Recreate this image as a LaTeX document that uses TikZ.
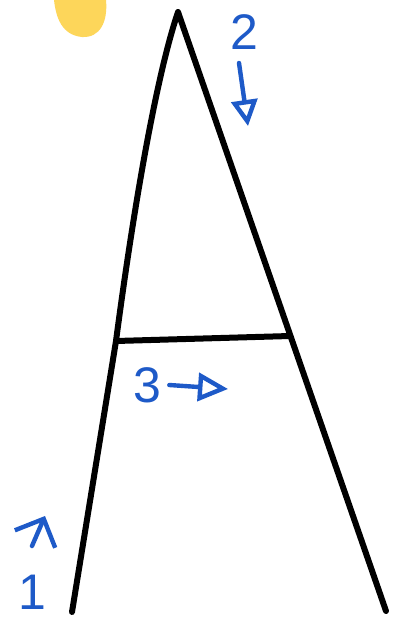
\documentclass[tikz,border=0pt]{standalone}
\usepackage{fontspec}
\setmainfont{Liberation Sans}
\usetikzlibrary{arrows.meta}
\definecolor{inkblue}{RGB}{30,90,200}
\definecolor{blob}{RGB}{253,214,90}
\tikzset{
  pen/.style={line width=3pt, line cap=round, line join=round, black},
  bluepen/.style={line width=2.2pt, line cap=round, line join=round, inkblue},
  num/.style={inkblue, font=\fontsize{25}{25}\selectfont, inner sep=0pt},
}
\begin{document}
\begin{tikzpicture}[x=0.5pt, y=-0.5pt]
\useasboundingbox (0,0) rectangle (393,622);
\fill[white] (0,0) rectangle (393,622);
% yellow blob
\fill[blob] (54,0) .. controls (56,18) and (62,35) .. (82,37)
  .. controls (100,38) and (108,22) .. (106,0) -- cycle;
% letter A
\coordinate (apex) at (178,12);
\coordinate (lmid) at (116,341);
\coordinate (lbot) at (72,612);
\coordinate (rmid) at (290,336);
\coordinate (rbot) at (386,611);
\draw[pen] (lbot) -- (lmid) .. controls (132,220) and (155,80) .. (apex) -- (rbot);
\draw[pen] (lmid) -- (rmid);
% annotations
\node[num] (n2) at (244,32) {2};
\coordinate (a2s) at (239,63);
\coordinate (a2e) at (248,126);
\draw[bluepen, -{Triangle[open, length=13pt, width=13pt, line width=2.2pt]}] (a2s) -- (a2e);
\node[num] (n3) at (147,385) {3};
\coordinate (a3e) at (228,389);
\draw[bluepen, -{Triangle[open, length=15pt, width=14pt, line width=2.2pt]}] (n3.east) ++(8,0) coordinate (a3s) (a3s) -- (a3e);
\node[num] (n1) at (32,592) {1};
\coordinate (a1s) at (32,546);
\coordinate (a1e) at (45,516);
\draw[bluepen, -{Straight Barb[length=11pt, width=22pt, line width=2.2pt]}] (a1s) -- (a1e);
\end{tikzpicture}
\end{document}
